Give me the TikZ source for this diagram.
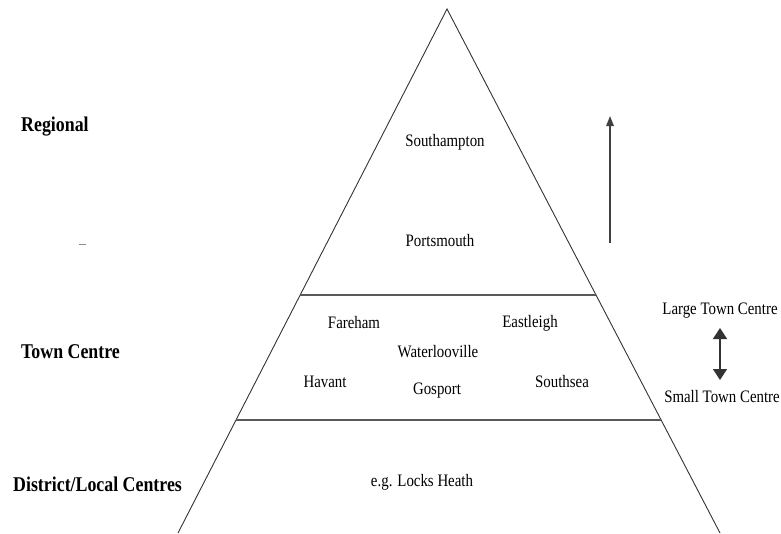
\documentclass[tikz,border=0pt]{standalone}
\usepackage{fontspec}
\setmainfont{Liberation Serif}[FakeStretch=0.85]
\usetikzlibrary{arrows.meta}
\usetikzlibrary{calc}

\begin{document}
\begin{tikzpicture}[x=1pt,y=-1pt]
    \tikzstyle{edge}=[draw=black!80,line width=0.9pt]
    \tikzstyle{tier}=[draw=black!65,line width=1.8pt]
    \tikzstyle{town}=[inner sep=0pt,font=\fontsize{17.5}{20}\selectfont]
    \tikzstyle{level}=[inner sep=0pt,anchor=west,font=\fontsize{21}{24}\selectfont\bfseries]
    \useasboundingbox (0,0) rectangle (781,533);
    % pyramid
    \coordinate (apex) at (447,9);
    \coordinate (bl) at (178,533);
    \coordinate (br) at (720,533);
    \draw[edge] (bl) -- (apex) -- (br);
    \draw[tier] ($(apex)!0.546!(bl)$) -- ($(apex)!0.546!(br)$);
    \draw[tier] ($(apex)!0.785!(bl)$) -- ($(apex)!0.785!(br)$);
    % levels
    \node[level] (regional) at (21,127) {Regional};
    \node[level] (town) at (21,352) {Town Centre};
    \node[level] (district) at (13,484) {District/Local Centres};
    \draw[black!45,line width=0.8pt] (79,244) -- (86,244);
    % places
    \node[town] (soton) at (445,142) {Southampton};
    \node[town] (pompey) at (440,241) {Portsmouth};
    \node[town] (fareham) at (354,323) {Fareham};
    \node[town] (eastleigh) at (530,323) {Eastleigh};
    \node[town] (waterloo) at (438,352) {Waterlooville};
    \node[town] (havant) at (325,382) {Havant};
    \node[town] (southsea) at (562,382) {Southsea};
    \node[town] (gosport) at (437,391) {Gosport};
    \node[town] (locks) at (422,482) {e.g. Locks Heath};
    % right side
    \node[town] (large) at (720,311) {Large Town Centre};
    \node[town] (small) at (722,397) {Small Town Centre};
    \coordinate (up0) at (610,243);
    \coordinate (up1) at (610,116);
    \draw[black!75,line width=1.4pt,-{Triangle[length=10pt,width=7.5pt]}] (up0) -- (up1);
    \coordinate (dn0) at (720,328);
    \coordinate (dn1) at (720,380);
    \draw[black!80,line width=1.4pt,{Triangle[length=11pt,width=14pt]}-{Triangle[length=11pt,width=14pt]}] (dn0) -- (dn1);
\end{tikzpicture}
\end{document}
